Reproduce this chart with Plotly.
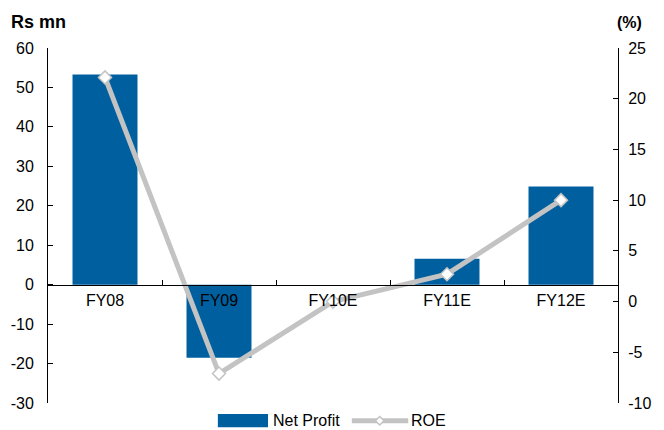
import plotly.graph_objects as go

# Net profit (Rs mn) and return on equity (%) by fiscal year
years = ["FY08", "FY09", "FY10E", "FY11E", "FY12E"]
net_profit = [53.3, -18.5, 0.0, 6.6, 24.9]
roe = [22.1, -7.1, 0.0, 2.7, 10.0]

left_ticks = [60, 50, 40, 30, 20, 10, 0, -10, -20, -30]
right_ticks = [25, 20, 15, 10, 5, 0, -5, -10]

BAR_COLOR = "#00609F"
LINE_COLOR = "#C3C3C3"
FONT = "Liberation Sans, Arial, sans-serif"
TICK_SIZE = 16

y_lo, y_hi = -30, 60
y2_lo, y2_hi = -10, 25

fig = go.Figure()
fig.add_trace(go.Bar(
    x=years, y=net_profit, name="Net Profit",
    marker=dict(color=BAR_COLOR, line=dict(width=0)),
    width=0.57, showlegend=False,
))
fig.add_trace(go.Scatter(
    x=years, y=roe, name="ROE", yaxis="y2", mode="lines+markers",
    line=dict(color=LINE_COLOR, width=5),
    marker=dict(symbol="diamond", size=10, color="white",
                line=dict(color=LINE_COLOR, width=1.5)),
    showlegend=False, cliponaxis=False,
))

axis_common = dict(
    showgrid=False, zeroline=False, showline=True, linecolor="black",
    linewidth=1, ticks="inside", ticklen=5, tickcolor="black", tickwidth=1,
    tickfont=dict(family=FONT, size=TICK_SIZE, color="black"),
)

fig.update_layout(
    width=664, height=430,
    margin=dict(l=48, r=46, t=48, b=27),
    paper_bgcolor="white", plot_bgcolor="white",
    font=dict(family=FONT, size=TICK_SIZE, color="black"),
    xaxis=dict(
        type="category", categoryorder="array", categoryarray=years,
        range=[-0.5, len(years) - 0.5],
        anchor="free", position=(0 - y_lo) / (y_hi - y_lo),
        tickson="boundaries", showgrid=False, zeroline=False,
        showline=True, linecolor="black", linewidth=1,
        ticks="inside", ticklen=5, tickcolor="black", tickwidth=1,
        tickfont=dict(family=FONT, size=TICK_SIZE, color="black"),
        ticklabelstandoff=1,
    ),
    yaxis=dict(range=[y_lo, y_hi], tickvals=left_ticks,
               ticktext=[str(v) for v in left_ticks],
               ticklabelstandoff=10, **axis_common),
    yaxis2=dict(range=[y2_lo, y2_hi], tickvals=right_ticks,
                ticktext=[str(v) for v in right_ticks], overlaying="y",
                side="right", ticklabelstandoff=6, **axis_common),
)

# Axis unit captions
fig.add_annotation(text="<b>Rs mn</b>", xref="paper", yref="paper",
                   x=-0.068, y=1.073, xanchor="left", yanchor="middle",
                   showarrow=False, font=dict(family=FONT, size=18))
fig.add_annotation(text="<b>(%)</b>", xref="paper", yref="paper",
                   x=1.021, y=1.073, xanchor="center", yanchor="middle",
                   showarrow=False, font=dict(family=FONT, size=16))

# Legend drawn below the plot: bar swatch and line swatch with marker
fig.add_shape(type="rect", xref="paper", yref="paper",
              x0=0.298, x1=0.386, y0=-0.068, y1=-0.031,
              fillcolor=BAR_COLOR, line=dict(width=0))
fig.add_annotation(text="Net Profit", xref="paper", yref="paper",
                   x=0.392, y=-0.05, xanchor="left", yanchor="middle",
                   showarrow=False, font=dict(family=FONT, size=TICK_SIZE))
fig.add_shape(type="line", xref="paper", yref="paper",
              x0=0.533, x1=0.632, y0=-0.05, y1=-0.05,
              line=dict(color=LINE_COLOR, width=5))
dx, dy = 0.0075, 0.012
cx, cy = 0.582, -0.05
fig.add_shape(type="path", xref="paper", yref="paper",
              path=f"M {cx - dx} {cy} L {cx} {cy + dy} L {cx + dx} {cy} "
                   f"L {cx} {cy - dy} Z",
              fillcolor="white", line=dict(color=LINE_COLOR, width=1.5))
fig.add_annotation(text="ROE", xref="paper", yref="paper",
                   x=0.634, y=-0.05, xanchor="left", yanchor="middle",
                   showarrow=False, font=dict(family=FONT, size=TICK_SIZE))

fig.write_html("out.html")
